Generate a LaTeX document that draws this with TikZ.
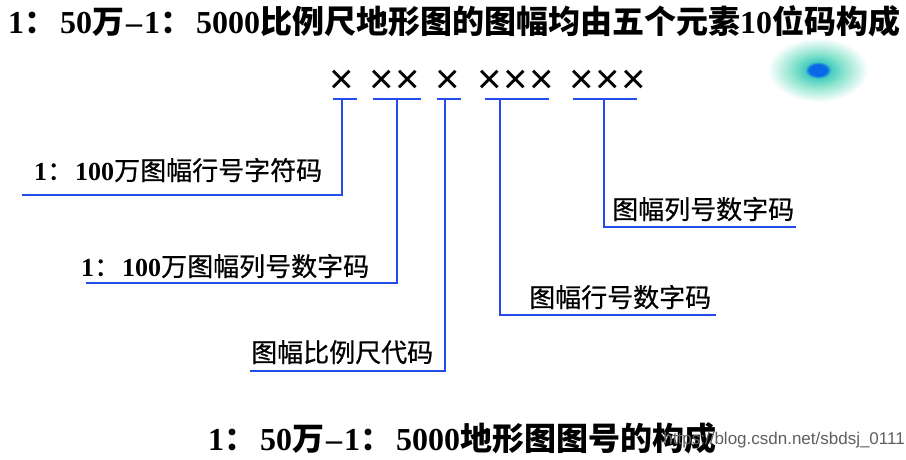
\documentclass[tikz,border=0pt]{standalone}
\usepackage{fontspec}
\newfontfamily\numfont{Liberation Serif}
\newfontfamily\cjkfont{Noto Sans CJK SC}
\newfontfamily\cjkmed{Noto Sans CJK SC}[FakeBold=0.6]
\newfontfamily\xfont{Liberation Sans}
\newcommand\numpart[1]{{\numfont\bfseries #1}}
\newcommand\cjkbold[1]{{\cjkfont\bfseries #1}}
\newcommand\cjkreg[1]{{\cjkmed #1}}
\definecolor{linkblue}{RGB}{35,75,235}
\definecolor{wmgray}{RGB}{95,95,95}
\definecolor{blobblue}{RGB}{10,105,230}
\definecolor{blobteal}{RGB}{70,205,195}
\definecolor{blobpale}{RGB}{140,228,205}
\pgfdeclareradialshading{blobshade}{\pgfpoint{0bp}{0bp}}{%
  color(0bp)=(blobblue); color(4.5bp)=(blobblue); color(6.5bp)=(blobteal);
  color(13bp)=(blobpale); color(25bp)=(white); color(50bp)=(white)}
\begin{document}
\begin{tikzpicture}[x=1pt,y=-1pt,
  titletext/.style={inner sep=0pt, font=\fontsize{32}{38}\selectfont},
  labeltext/.style={inner sep=0pt, anchor=base west, font=\fontsize{26}{30}\selectfont},
  crossmark/.style={inner sep=0pt, font=\xfont\fontsize{42}{42}\selectfont},
  link/.style={draw=linkblue, line width=1.3pt},
  watermark/.style={inner sep=0pt, anchor=base east, text=wmgray, font=\xfont\fontsize{17}{19}\selectfont}]
\useasboundingbox (0,0) rectangle (906,460);
\fill[white] (0,0) rectangle (906,460);

% glow spot
\shade[shading=blobshade] (818,70) ellipse [x radius=50, y radius=32];

% title
\node[titletext, anchor=base west] (title) at (8,34)
  {\numpart{1}\cjkbold{：}\hspace{4pt}\numpart{50}\cjkbold{万}\hspace{2pt}\numpart{–}\hspace{2pt}\numpart{1}\cjkbold{：}\hspace{4pt}\numpart{5000}\cjkbold{比例尺地形图的图幅均由五个元素}\numpart{10}\cjkbold{位码构成}};

% crosses
\node[crossmark] (x1) at (342,82) {×};
\node[crossmark] (x2) at (382,82) {×};
\node[crossmark] (x3) at (408,82) {×};
\node[crossmark] (x4) at (448,82) {×};
\node[crossmark] (x5) at (490,82) {×};
\node[crossmark] (x6) at (516,82) {×};
\node[crossmark] (x7) at (542,82) {×};
\node[crossmark] (x8) at (582,82) {×};
\node[crossmark] (x9) at (608,82) {×};
\node[crossmark] (x10) at (634,82) {×};

% group underlines
\coordinate (g1a) at (333,99); \coordinate (g1b) at (357,99);
\coordinate (g2a) at (373,99); \coordinate (g2b) at (421,99);
\coordinate (g3a) at (437,99); \coordinate (g3b) at (461,99);
\coordinate (g4a) at (485,99); \coordinate (g4b) at (549,99);
\coordinate (g5a) at (573,99); \coordinate (g5b) at (637,99);
\foreach \g in {1,...,5} \draw[link] (g\g a) -- (g\g b);

% tick points
\coordinate (t1) at (342,99);
\coordinate (t2) at (397,99);
\coordinate (t3) at (445,99);
\coordinate (t4) at (500,99);
\coordinate (t5) at (604,99);

% label underline ends
\coordinate (e1) at (22,195);
\coordinate (e2) at (86,283);
\coordinate (e3) at (250,371);
\coordinate (e4) at (716,315);
\coordinate (e5) at (796,227);

% labels
\node[labeltext] (l1) at (34,180) {\numpart{1}\cjkreg{：}\hspace{2pt}\numpart{100}\cjkreg{万图幅行号字符码}};
\node[labeltext] (l2) at (81,276) {\numpart{1}\cjkreg{：}\hspace{2pt}\numpart{100}\cjkreg{万图幅列号数字码}};
\node[labeltext] (l3) at (251,362) {\cjkreg{图幅比例尺代码}};
\node[labeltext] (l4) at (529,307) {\cjkreg{图幅行号数字码}};
\node[labeltext] (l5) at (612,219) {\cjkreg{图幅列号数字码}};

% connectors
\draw[link] (t1) |- (e1);
\draw[link] (t2) |- (e2);
\draw[link] (t3) |- (e3);
\draw[link] (t4) |- (e4);
\draw[link] (t5) |- (e5);

% bottom title
\node[titletext, anchor=base west] (caption) at (208,450)
  {\numpart{1}\cjkbold{：}\hspace{4pt}\numpart{50}\cjkbold{万}\hspace{2pt}\numpart{–}\hspace{2pt}\numpart{1}\cjkbold{：}\hspace{4pt}\numpart{5000}\cjkbold{地形图图号的构成}};

% watermark
\node[watermark] (wm) at (905,444) {https://blog.csdn.net/sbdsj\_0111};
\end{tikzpicture}
\end{document}
